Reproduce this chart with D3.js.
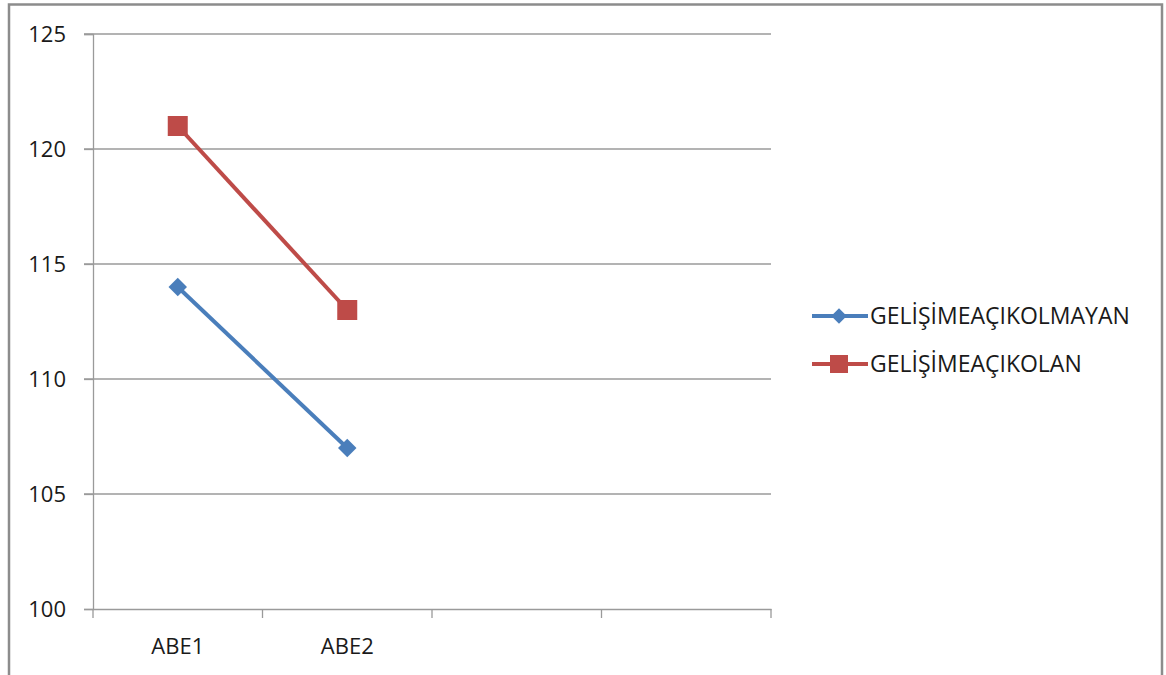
<!DOCTYPE html>
<html><head><meta charset="utf-8">
<script src="https://cdn.jsdelivr.net/npm/d3@7"></script>
<style>body{margin:0;background:#fff}svg{display:block}</style>
</head><body>
<script>
const categories = ["ABE1", "ABE2", "", " "];
const seriesNames = ["GELİŞİMEAÇIKOLMAYAN", "GELİŞİMEAÇIKOLAN"];
const seriesBlue = [114, 107];
const seriesRed = [121, 113];
const yTicks = [100, 105, 110, 115, 120, 125];

const W = 1166, H = 675;
const svg = d3.select("body").append("svg").attr("width", W).attr("height", H);
const font = "'Open Sans', 'Liberation Sans', sans-serif";
const fs = 22;
const txt = "#1a1a1a";

// outer frame
svg.append("rect").attr("x", 9).attr("y", 4.5).attr("width", 1153).attr("height", 672)
  .attr("fill", "#fff").attr("stroke", "#8c8c8c").attr("stroke-width", 2.5);

const x = d3.scaleBand().domain(categories).range([93, 771]);
const y = d3.scaleLinear().domain([100, 125]).range([609, 34]);

// gridlines
svg.append("g").selectAll("line").data(yTicks.filter(d => d > 100)).join("line")
  .attr("x1", 84).attr("x2", 771).attr("y1", d => y(d)).attr("y2", d => y(d))
  .attr("stroke", "#9a9a9a").attr("stroke-width", 1.3);

// y axis
const ya = svg.append("g").attr("transform", "translate(93,0)")
  .call(d3.axisLeft(y).tickValues(yTicks).tickSize(9).tickPadding(18));
ya.select(".domain").attr("stroke", "#9a9a9a").attr("stroke-width", 1.3);
ya.selectAll(".tick line").attr("stroke", "#9a9a9a").attr("stroke-width", 1.3);
ya.selectAll("text").attr("font-family", font).attr("font-size", fs).attr("fill", txt);

// x axis
const xa = svg.append("g").attr("transform", "translate(0,609)")
  .call(d3.axisBottom(x).tickSize(0).tickPadding(29));
xa.select(".domain").attr("stroke", "#9a9a9a").attr("stroke-width", 1.3);
xa.selectAll("text").attr("font-family", font).attr("font-size", fs).attr("fill", txt);
// band boundary ticks
const bounds = categories.map(c => x(c)).concat([x.range()[1]]);
svg.append("g").selectAll("line").data(bounds).join("line")
  .attr("x1", d => d).attr("x2", d => d).attr("y1", 609).attr("y2", 618)
  .attr("stroke", "#9a9a9a").attr("stroke-width", 1.3);

const cx = i => x(categories[i]) + x.bandwidth() / 2;
const line = d3.line().x((d, i) => cx(i)).y(d => y(d));
const blue = "#4a7ebb", red = "#be4b48";

svg.append("path").datum(seriesBlue).attr("d", line).attr("fill", "none")
  .attr("stroke", blue).attr("stroke-width", 4);
svg.append("path").datum(seriesRed).attr("d", line).attr("fill", "none")
  .attr("stroke", red).attr("stroke-width", 4);

const diamond = d3.symbol().type(d3.symbolSquare).size(170);
svg.append("g").selectAll("path").data(seriesBlue).join("path")
  .attr("d", diamond).attr("fill", blue)
  .attr("transform", (d, i) => `translate(${cx(i)},${y(d)}) rotate(45)`);
svg.append("g").selectAll("rect").data(seriesRed).join("rect")
  .attr("x", (d, i) => cx(i) - 10).attr("y", d => y(d) - 10)
  .attr("width", 20).attr("height", 20).attr("fill", red);

// legend
const leg = svg.append("g");
const items = [{name: seriesNames[0], color: blue, type: "d", y: 316},
               {name: seriesNames[1], color: red, type: "s", y: 364}];
items.forEach(it => {
  leg.append("line").attr("x1", 812).attr("x2", 868).attr("y1", it.y).attr("y2", it.y)
    .attr("stroke", it.color).attr("stroke-width", 4);
  if (it.type === "d") {
    leg.append("path").attr("d", d3.symbol().type(d3.symbolSquare).size(120)())
      .attr("fill", it.color).attr("transform", `translate(839,${it.y}) rotate(45)`);
  } else {
    leg.append("rect").attr("x", 830).attr("y", it.y - 9).attr("width", 18).attr("height", 18)
      .attr("fill", it.color);
  }
  leg.append("text").attr("x", 870).attr("y", it.y).attr("dy", "0.35em")
    .attr("font-family", font).attr("font-size", 23).attr("fill", txt).text(it.name);
});
</script>
</body></html>
